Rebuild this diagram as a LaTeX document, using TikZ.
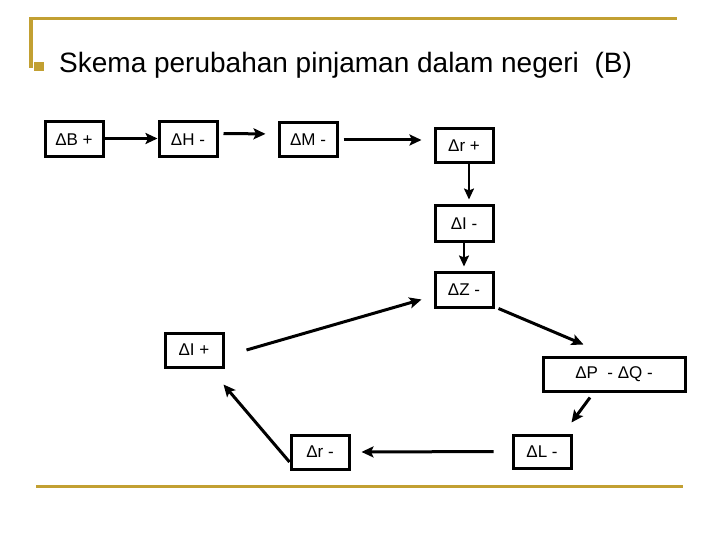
\documentclass[tikz,border=0pt]{standalone}
\usepackage{fontspec}
\setmainfont{Liberation Sans}
\usetikzlibrary{arrows.meta}
\definecolor{emas}{RGB}{194,160,50}

\begin{document}
\begin{tikzpicture}[x=1pt, y=-1pt,
		kotak/.style={draw, rectangle, line width=3pt, minimum width=58pt, minimum height=35pt, inner sep=0pt, anchor=north west, font=\fontsize{17}{20}\selectfont},
		panah/.style={line width=3pt, -{Stealth[length=12pt, width=11pt, inset=2.5pt]}},
		panahtipis/.style={line width=2pt, -{Stealth[length=11pt, width=10pt, inset=2pt]}}]
		\useasboundingbox (0,0) rectangle (720,540);
		\draw[emas, line width=3.2pt] (31,68) -- (31,18.3) -- (677,18.3);
		\draw[emas, line width=3.2pt] (36,486.3) -- (683,486.3);
		\fill[emas] (34,62) rectangle (44,71);
		\node[anchor=base west, inner sep=0pt, font=\fontsize{28}{32}\selectfont] (judul) at (59,73) {Skema perubahan pinjaman dalam negeri~ (B)};
		\node[kotak] (dB) at (43.5,120.5) {ΔB +};
		\node[kotak] (dH) at (157.5,120.5) {ΔH -};
		\node[kotak, minimum height=34pt] (dM) at (277.5,121.5) {ΔM -};
		\node[kotak, minimum height=34pt] (dRp) at (433.5,127.5) {Δr +};
		\node[kotak] (dIm) at (433.5,204.5) {ΔI -};
		\node[kotak] (dZm) at (433.5,270.5) {ΔZ -};
		\node[kotak, minimum height=34pt] (dIp) at (163.5,331.5) {ΔI +};
		\node[kotak, minimum width=142pt, minimum height=34pt] (dPQ) at (541.5,355.5) {ΔP~ - ΔQ -};
		\node[kotak, minimum height=33pt] (dLm) at (511.5,433.5) {ΔL -};
		\node[kotak, minimum height=34pt] (dRm) at (289.5,433.5) {Δr -};
		\draw[panah] ([yshift=1pt]dB.east) -- ([yshift=1pt]dH.west);
		\draw[panah, shorten <=5pt, shorten >=12pt] ([yshift=6pt]dH.east) -- ([yshift=6pt]dM.west);
		\draw[panah, shorten <=5pt, shorten >=12pt] (dM.east) -- (dM.east -| dRp.west);
		\draw[panahtipis, shorten >=5pt] ([xshift=5pt]dRp.south) -- ([xshift=5pt]dIm.north);
		\draw[panahtipis, shorten >=4pt] (dIm.south) -- (dZm.north);
		\draw[panah] ([xshift=22pt]dIp.east) -- ([xshift=-12pt, yshift=-10pt]dZm.west);
		\draw[panah] ([xshift=4pt]dZm.south east) -- ([xshift=42pt, yshift=11pt]dPQ.north west);
		\draw[panah] ([xshift=-24pt, yshift=-5pt]dPQ.south) -- ([xshift=-1pt, yshift=11pt]dLm.north east);
		\draw[panah, shorten <=18pt, shorten >=11pt] (dLm.west) -- (dRm.east);
		\draw[panah] ([yshift=-10pt]dRm.west) -- ([xshift=-1pt, yshift=-16pt]dIp.south east);
	\end{tikzpicture}
\end{document}
